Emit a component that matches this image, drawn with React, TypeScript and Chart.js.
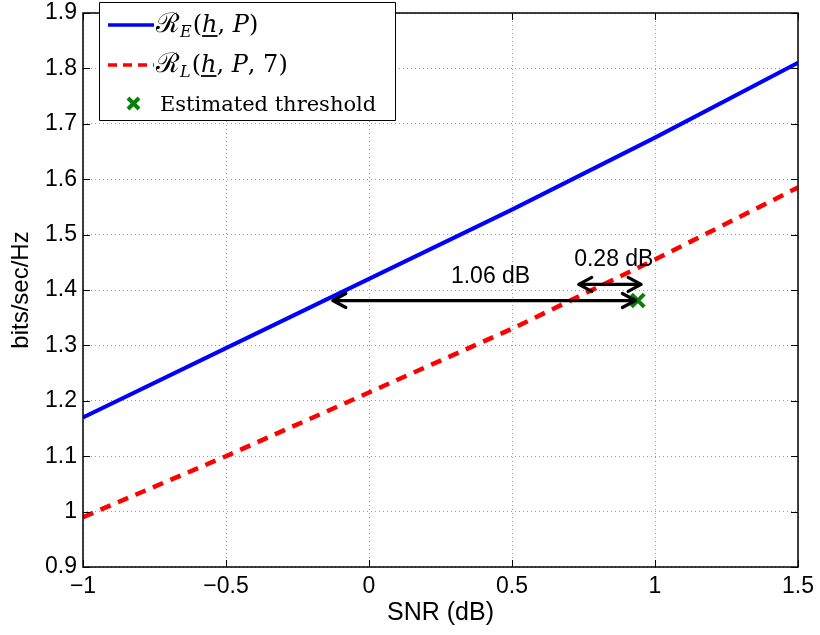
import React, { useEffect, useRef } from 'react';
import { Chart, registerables } from 'chart.js';

Chart.register(...registerables);

// ---- data ----
const snrDb = [-1, -0.5, 0, 0.5, 1, 1.5];
const rateE = [1.17, 1.295, 1.42, 1.545, 1.675, 1.81];
const rateL = [0.99, 1.1, 1.215, 1.33, 1.455, 1.585];
const thresholdX = [0.94];
const thresholdY = [1.381];

const xTickValues = [-1, -0.5, 0, 0.5, 1, 1.5];
const xTickLabels = ['\u22121', '\u22120.5', '0', '0.5', '1', '1.5'];
const yTickValues = [0.9, 1.0, 1.1, 1.2, 1.3, 1.4, 1.5, 1.6, 1.7, 1.8, 1.9];
const yTickLabels = ['0.9', '1', '1.1', '1.2', '1.3', '1.4', '1.5', '1.6', '1.7', '1.8', '1.9'];

const arrowLongX = [-0.13, 0.935];
const arrowLongY = [1.381, 1.381];
const arrowShortX = [0.73, 0.955];
const arrowShortY = [1.41, 1.41];
const noteTexts = ['1.06 dB', '0.28 dB'];
const noteX = [0.425, 0.856];
const noteY = [1.424, 1.455];

const legendThreshold = 'Estimated threshold';

const SANS = '"Liberation Sans", Arial, Helvetica, sans-serif';
const SERIF = '"DejaVu Serif", "Liberation Serif", serif';

type Part = { t: string; it?: boolean; sub?: boolean; ul?: boolean; size?: number };

function drawParts(ctx: CanvasRenderingContext2D, x0: number, base: number, parts: Part[]) {
  let x = x0;
  for (const p of parts) {
    const size = p.sub ? 16 : p.size || 24;
    ctx.font = `${p.it ? 'italic ' : ''}${size}px ${SERIF}`;
    const yy = p.sub ? base + 5 : base;
    ctx.fillStyle = '#000';
    ctx.textBaseline = 'alphabetic';
    ctx.textAlign = 'left';
    ctx.fillText(p.t, x, yy);
    const w = ctx.measureText(p.t).width;
    if (p.ul) {
      ctx.save();
      ctx.strokeStyle = '#000';
      ctx.lineWidth = 1.8;
      ctx.beginPath();
      ctx.moveTo(x, yy + 4);
      ctx.lineTo(x + w, yy + 4);
      ctx.stroke();
      ctx.restore();
    }
    x += w + (p.sub ? 1 : 0);
  }
}

function arrow(ctx: CanvasRenderingContext2D, x1: number, x2: number, y: number) {
  const head = 14;
  const spread = 7;
  ctx.beginPath();
  ctx.moveTo(x1 + 2, y);
  ctx.lineTo(x2 - 2, y);
  ctx.stroke();
  ctx.beginPath();
  ctx.moveTo(x1 + head, y - spread);
  ctx.lineTo(x1 + 1, y);
  ctx.lineTo(x1 + head, y + spread);
  ctx.moveTo(x2 - head, y - spread);
  ctx.lineTo(x2 - 1, y);
  ctx.lineTo(x2 - head, y + spread);
  ctx.stroke();
}

const overlayPlugin = {
  id: 'overlay',
  afterDraw(chart: any) {
    const { ctx, chartArea: a, scales } = chart;
    const xs = scales.x;
    const ys = scales.y;
    ctx.save();
    // frame
    ctx.strokeStyle = '#000';
    ctx.lineWidth = 1.5;
    ctx.strokeRect(a.left, a.top, a.right - a.left, a.bottom - a.top);
    // inward ticks
    ctx.lineWidth = 1;
    ctx.beginPath();
    for (const v of xTickValues) {
      const px = Math.round(xs.getPixelForValue(v)) + 0.5;
      ctx.moveTo(px, a.bottom);
      ctx.lineTo(px, a.bottom - 7);
      ctx.moveTo(px, a.top);
      ctx.lineTo(px, a.top + 7);
    }
    for (const v of yTickValues) {
      const py = Math.round(ys.getPixelForValue(v)) + 0.5;
      ctx.moveTo(a.left, py);
      ctx.lineTo(a.left + 7, py);
      ctx.moveTo(a.right, py);
      ctx.lineTo(a.right - 7, py);
    }
    ctx.stroke();

    // arrows
    ctx.strokeStyle = '#000';
    ctx.lineWidth = 3.2;
    ctx.lineCap = 'round';
    ctx.lineJoin = 'round';
    arrow(ctx, xs.getPixelForValue(arrowLongX[0]), xs.getPixelForValue(arrowLongX[1]), ys.getPixelForValue(arrowLongY[0]));
    arrow(ctx, xs.getPixelForValue(arrowShortX[0]), xs.getPixelForValue(arrowShortX[1]), ys.getPixelForValue(arrowShortY[0]));

    // notes
    ctx.fillStyle = '#000';
    ctx.font = `23px ${SANS}`;
    ctx.textAlign = 'center';
    ctx.textBaseline = 'middle';
    for (let i = 0; i < noteTexts.length; i++) {
      ctx.fillText(noteTexts[i], xs.getPixelForValue(noteX[i]), ys.getPixelForValue(noteY[i]));
    }

    // legend box
    const bx = 99.5, by = 2.5, bw = 296, bh = 118;
    ctx.fillStyle = '#fff';
    ctx.fillRect(bx, by, bw, bh);
    ctx.strokeStyle = '#000';
    ctx.lineWidth = 1;
    ctx.lineCap = 'butt';
    ctx.strokeRect(bx, by, bw, bh);

    // row 1
    ctx.strokeStyle = '#0000ff';
    ctx.lineWidth = 3.5;
    ctx.beginPath();
    ctx.moveTo(108, 25);
    ctx.lineTo(154, 25);
    ctx.stroke();
    drawParts(ctx, 156, 32, [
      { t: '\u211B', size: 27 },
      { t: 'E', it: true, sub: true },
      { t: '(' },
      { t: 'h', it: true, ul: true },
      { t: ', ' },
      { t: 'P', it: true },
      { t: ')' },
    ]);
    // row 2
    ctx.strokeStyle = '#ff0000';
    ctx.lineWidth = 3.5;
    ctx.setLineDash([9, 6]);
    ctx.beginPath();
    ctx.moveTo(108, 65);
    ctx.lineTo(154, 65);
    ctx.stroke();
    ctx.setLineDash([]);
    drawParts(ctx, 156, 72, [
      { t: '\u211B', size: 27 },
      { t: 'L', it: true, sub: true },
      { t: '(' },
      { t: 'h', it: true, ul: true },
      { t: ', ' },
      { t: 'P', it: true },
      { t: ', 7)' },
    ]);
    // row 3
    ctx.strokeStyle = '#0a800a';
    ctx.lineWidth = 4;
    ctx.beginPath();
    ctx.moveTo(128, 98);
    ctx.lineTo(139, 109);
    ctx.moveTo(139, 98);
    ctx.lineTo(128, 109);
    ctx.stroke();
    drawParts(ctx, 160, 111, [{ t: legendThreshold, size: 21 }]);

    ctx.restore();
  },
};

export default function App() {
  const ref = useRef<HTMLCanvasElement>(null);
  useEffect(() => {
    if (!ref.current) return;
    const chart = new Chart(ref.current, {
      type: 'line',
      data: {
        datasets: [
          {
            label: 'RE',
            data: snrDb.map((x, i) => ({ x, y: rateE[i] })),
            borderColor: '#0000ff',
            borderWidth: 4,
            pointRadius: 0,
            tension: 0,
            fill: false,
          },
          {
            label: 'RL',
            data: snrDb.map((x, i) => ({ x, y: rateL[i] })),
            borderColor: '#ff0000',
            borderWidth: 4.5,
            borderDash: [11, 8],
            pointRadius: 0,
            tension: 0,
            fill: false,
          },
          {
            label: 'Estimated threshold',
            data: thresholdX.map((x, i) => ({ x, y: thresholdY[i] })),
            showLine: false,
            pointStyle: 'crossRot',
            pointRadius: 9,
            pointBorderWidth: 4,
            borderColor: '#0a800a',
            backgroundColor: '#0a800a',
          },
        ],
      },
      options: {
        animation: false,
        responsive: false,
        devicePixelRatio: 1,
        layout: { padding: { top: 9, right: 22, left: 0, bottom: 0 } },
        plugins: { legend: { display: false }, tooltip: { enabled: false } },
        scales: {
          x: {
            type: 'linear',
            min: -1,
            max: 1.5,
            afterBuildTicks: (s: any) => {
              s.ticks = xTickValues.map((v) => ({ value: v }));
            },
            afterFit: (s: any) => {
              s.height = 635 - 567;
              s.paddingLeft = 0;
              s.paddingRight = 0;
            },
            ticks: {
              autoSkip: false,
              maxRotation: 0,
              padding: 6,
              color: '#000',
              font: { family: SANS, size: 23 },
              callback: (v: any) => {
                const i = xTickValues.findIndex((t) => Math.abs(t - v) < 1e-9);
                return i >= 0 ? xTickLabels[i] : '';
              },
            },
            grid: { color: '#9a9a9a', lineWidth: 1, drawTicks: false },
            border: { display: false, dash: [1, 3] },
            title: {
              display: true,
              text: 'SNR (dB)',
              color: '#000',
              font: { family: SANS, size: 25 },
              padding: { top: 0, bottom: 7 },
            },
          },
          y: {
            type: 'linear',
            min: 0.9,
            max: 1.9,
            afterBuildTicks: (s: any) => {
              s.ticks = yTickValues.map((v) => ({ value: v }));
            },
            afterFit: (s: any) => {
              s.width = 83;
              s.paddingTop = 0;
              s.paddingBottom = 0;
            },
            ticks: {
              autoSkip: false,
              padding: 6,
              color: '#000',
              font: { family: SANS, size: 23 },
              callback: (v: any) => {
                const i = yTickValues.findIndex((t) => Math.abs(t - v) < 1e-9);
                return i >= 0 ? yTickLabels[i] : '';
              },
            },
            grid: { color: '#9a9a9a', lineWidth: 1, drawTicks: false },
            border: { display: false, dash: [1, 3] },
            title: {
              display: true,
              text: 'bits/sec/Hz',
              color: '#000',
              font: { family: SANS, size: 24 },
              padding: { top: 7, bottom: 0 },
            },
          },
        },
      },
      plugins: [overlayPlugin],
    } as any);
    return () => chart.destroy();
  }, []);
  return (
    <div style={{ position: 'fixed', left: 0, top: 0, width: 820, height: 635, background: '#fff' }}>
      <canvas ref={ref} width={820} height={635} style={{ display: 'block' }} />
    </div>
  );
}
